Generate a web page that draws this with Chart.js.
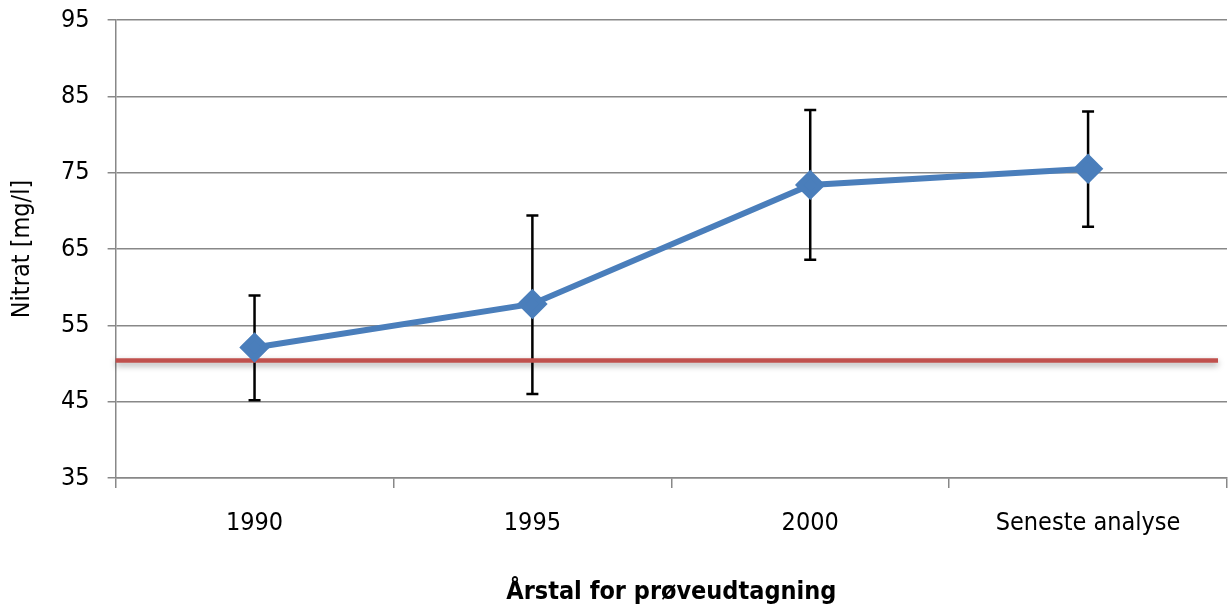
<!DOCTYPE html>
<html>
<head>
<meta charset="utf-8">
<script src="https://cdn.jsdelivr.net/npm/chart.js@4.4.1/dist/chart.umd.min.js"></script>
<style>
  html, body { margin: 0; padding: 0; background: #fff; overflow: hidden; }
  #wrap { width: 1229px; height: 614px; position: relative; overflow: hidden; }
</style>
</head>
<body>
<div id="wrap"><canvas id="chart"></canvas></div>
<script>
// Data
const categories = ['1990', '1995', '2000', 'Seneste analyse'];
const nitrat = [52.1, 57.8, 73.4, 75.5];
const errLow = [45.2, 46.0, 63.6, 67.9];
const errHigh = [58.9, 69.4, 83.2, 83.0];
const limitValue = 50.4;
const yTicks = [35, 45, 55, 65, 75, 85, 95];

const FONT = "'Liberation Sans Narrow', 'Arial Narrow', 'DejaVu Sans Condensed', sans-serif";
const GRID = '#888888';

// error bars + limit line, drawn under the series
const extrasPlugin = {
    id: 'extras',
    beforeDatasetsDraw(chart) {
        const { ctx, chartArea, scales: { x, y } } = chart;
        ctx.save();

        // error bars
        ctx.strokeStyle = '#000';
        ctx.lineWidth = 2.5;
        categories.forEach((c, i) => {
            const px = x.getPixelForValue(i);
            const top = y.getPixelForValue(errHigh[i]);
            const bot = y.getPixelForValue(errLow[i]);
            ctx.beginPath();
            ctx.moveTo(px, top);
            ctx.lineTo(px, bot);
            ctx.moveTo(px - 6, top);
            ctx.lineTo(px + 6, top);
            ctx.moveTo(px - 6, bot);
            ctx.lineTo(px + 6, bot);
            ctx.stroke();
        });

        // limit line with soft shadow
        const ly = y.getPixelForValue(limitValue);
        ctx.shadowColor = 'rgba(0,0,0,0.35)';
        ctx.shadowBlur = 6;
        ctx.shadowOffsetY = 3;
        ctx.strokeStyle = '#C0504D';
        ctx.lineWidth = 4.5;
        ctx.beginPath();
        ctx.moveTo(chartArea.left, ly);
        ctx.lineTo(chartArea.right - 9, ly);
        ctx.stroke();
        ctx.restore();
    }
};

new Chart(document.getElementById('chart'), {
    type: 'line',
    data: {
        labels: categories,
        datasets: [{
            label: 'Nitrat',
            data: nitrat,
            borderColor: '#4A7EBB',
            backgroundColor: '#4A7EBB',
            borderWidth: 6,
            pointStyle: 'rectRot',
            pointRadius: 11,
            pointHoverRadius: 11,
            tension: 0
        }]
    },
    options: {
        responsive: true,
        maintainAspectRatio: false,
        animation: false,
        devicePixelRatio: 1,
        layout: { autoPadding: false, padding: { top: 20, right: 2, left: 7, bottom: 7 } },
        plugins: {
            legend: { display: false },
            tooltip: { enabled: false }
        },
        scales: {
            x: {
                offset: true,
                afterFit(axis) {
                    axis.paddingLeft = 0;
                    axis.paddingRight = 0;
                },
                grid: {
                    offset: true,
                    drawOnChartArea: false,
                    color: GRID,
                    lineWidth: 1.5,
                    tickLength: 10
                },
                border: { display: true, color: GRID, width: 1.5 },
                ticks: {
                    color: '#000',
                    font: { family: FONT, size: 25 },
                    padding: 20,
                    maxRotation: 0
                },
                title: {
                    display: true,
                    text: 'Årstal for prøveudtagning',
                    color: '#000',
                    font: { family: FONT, size: 25, weight: 'bold' },
                    padding: { top: 19, bottom: 0 }
                }
            },
            y: {
                min: 35,
                max: 95,
                afterBuildTicks(axis) {
                    axis.ticks = yTicks.map(v => ({ value: v }));
                },
                afterFit(axis) {
                    axis.paddingTop = 0;
                },
                grid: {
                    color: GRID,
                    lineWidth: 1.5,
                    tickLength: 8
                },
                border: { display: true, color: GRID, width: 1.5 },
                ticks: {
                    color: '#000',
                    font: { family: FONT, size: 25 },
                    padding: 18
                },
                title: {
                    display: true,
                    text: 'Nitrat [mg/l]',
                    color: '#000',
                    font: { family: FONT, size: 25 },
                    padding: { top: 0, bottom: 6 }
                }
            }
        }
    },
    plugins: [extrasPlugin]
});
</script>
</body>
</html>
